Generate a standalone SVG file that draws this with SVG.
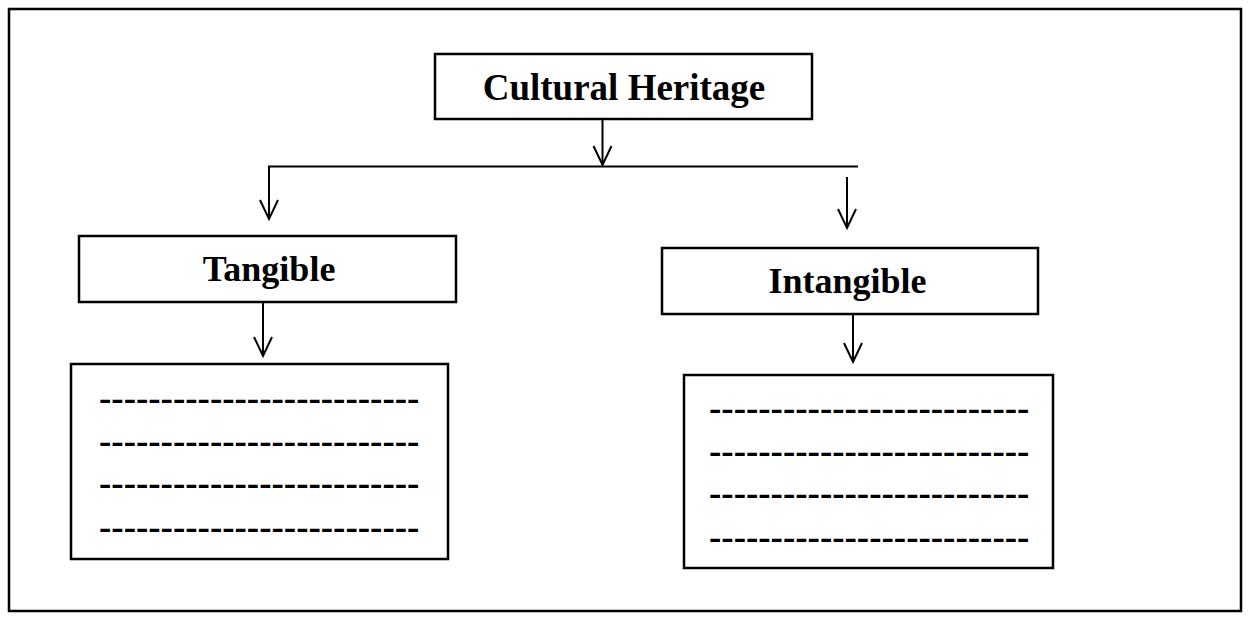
<svg xmlns="http://www.w3.org/2000/svg" width="1249" height="621" viewBox="0 0 1249 621">
<style>
.box{fill:#fff;stroke:#000;stroke-width:2.5}
.lbl{font-family:"Liberation Serif","Times New Roman",serif;font-weight:bold;font-size:36px;fill:#000;text-anchor:middle}
.dash{font-family:"Liberation Serif","Times New Roman",serif;font-weight:bold;font-size:37px;fill:#000}
.con{fill:none;stroke:#000;stroke-width:2}
</style>
<defs>
<marker id="arr" markerUnits="userSpaceOnUse" markerWidth="30" markerHeight="30" refX="0" refY="0" orient="auto" overflow="visible">
<path d="M-19,-9 L0,0 L-19,9" fill="none" stroke="#000" stroke-width="2"/>
</marker>
</defs>
<rect x="9" y="9" width="1232" height="602" fill="#fff" stroke="#000" stroke-width="2.5"/>
<g id="connectors">
<line class="con" x1="602.5" y1="119" x2="602.5" y2="165" marker-end="url(#arr)"/>
<line class="con" x1="268" y1="166.5" x2="858" y2="166.5"/>
<line class="con" x1="269" y1="166.5" x2="269" y2="219" marker-end="url(#arr)"/>
<line class="con" x1="847" y1="177" x2="847" y2="228" marker-end="url(#arr)"/>
<line class="con" x1="263" y1="302" x2="263" y2="356" marker-end="url(#arr)"/>
<line class="con" x1="853" y1="310" x2="853" y2="362" marker-end="url(#arr)"/>
</g>
<g id="cultural-heritage">
<rect class="box" x="435" y="54" width="377" height="65"/>
<text class="lbl" x="624" y="100" style="font-size:37px">Cultural Heritage</text>
</g>
<g id="tangible">
<rect class="box" x="79" y="236" width="377" height="66"/>
<text class="lbl" x="269" y="281">Tangible</text>
</g>
<g id="intangible">
<rect class="box" x="662" y="248" width="376" height="66"/>
<text class="lbl" x="847.5" y="293">Intangible</text>
</g>
<g id="tangible-list">
<rect class="box" x="71" y="364" width="377" height="195"/>
<text class="dash" x="99" y="410">--------------------------</text>
<text class="dash" x="99" y="452.5">--------------------------</text>
<text class="dash" x="99" y="495">--------------------------</text>
<text class="dash" x="99" y="539">--------------------------</text>
</g>
<g id="intangible-list">
<rect class="box" x="684" y="375" width="369" height="193"/>
<text class="dash" x="709" y="420">--------------------------</text>
<text class="dash" x="709" y="462.5">--------------------------</text>
<text class="dash" x="709" y="505">--------------------------</text>
<text class="dash" x="709" y="549">--------------------------</text>
</g>
</svg>
